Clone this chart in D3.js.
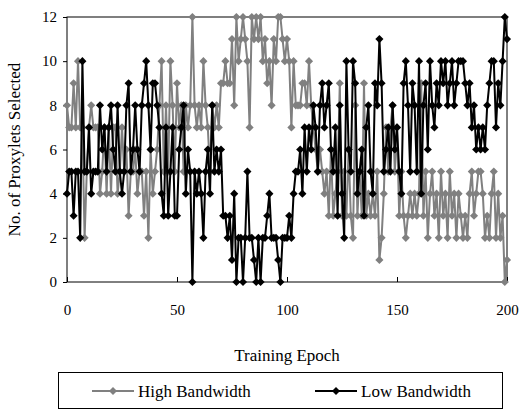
<!DOCTYPE html>
<html>
<head>
<meta charset="utf-8">
<script src="https://cdn.jsdelivr.net/npm/d3@7"></script>
<style>
  body { margin: 0; background: #fff; }
  svg text { font-family: "Liberation Serif", "Times New Roman", serif; fill: #000; }
</style>
</head>
<body>
<div id="chart"></div>
<script>
const grey = "#808080";
const black = "#000000";

const seriesNames = ["High Bandwidth", "Low Bandwidth"];
const xTickValues = [0, 50, 100, 150, 200];
const yTickValues = [0, 2, 4, 6, 8, 10, 12];

const epochs = d3.range(0, 201);

// epochs 0..200
const highBandwidth = [
  8, 7, 7, 9, 7, 10, 7, 7, 2, 5,
  7, 8, 7, 7, 7, 4, 5, 7, 4, 7,
  4, 7, 7, 4, 5, 7, 5, 6, 3, 5,
  5, 6, 4, 5, 5, 3, 5, 2, 6, 4,
  5, 6, 8, 10, 5, 8, 5, 10, 8, 5,
  9, 7, 8, 5, 8, 7, 8, 12, 8, 7,
  8, 7, 10, 8, 7, 5, 8, 7, 8, 7,
  9, 9, 10, 9, 9, 11, 8, 12, 10, 11,
  12, 11, 10, 7, 12, 11, 12, 11, 12, 10,
  11, 9, 10, 8, 11, 10, 12, 12, 11, 10,
  11, 10, 7, 10, 8, 8, 8, 9, 9, 8,
  10, 8, 7, 6, 5, 6, 5, 4, 5, 3,
  6, 3, 4, 5, 9, 3, 5, 3, 6, 3,
  2, 8, 3, 5, 3, 9, 3, 4, 3, 4,
  3, 5, 1, 2, 4, 7, 5, 7, 8, 5,
  7, 3, 5, 3, 2, 3, 4, 3, 4, 3,
  4, 9, 3, 5, 2, 4, 5, 3, 4, 2,
  5, 3, 4, 2, 5, 3, 4, 2, 4, 3,
  2, 3, 2, 4, 5, 3, 4, 5, 5, 4,
  2, 3, 2, 4, 5, 2, 4, 2, 3, 0,
  1
];

const lowBandwidth = [
  4, 5, 5, 3, 5, 5, 2, 10, 5, 5,
  7, 4, 5, 5, 5, 8, 6, 7, 5, 7,
  8, 6, 5, 8, 5, 4, 5, 8, 9, 5,
  6, 8, 6, 5, 8, 9, 10, 8, 6, 9,
  9, 8, 7, 4, 3, 7, 3, 5, 7, 3,
  3, 6, 7, 8, 4, 6, 5, 0, 5, 4,
  5, 4, 2, 5, 6, 4, 8, 5, 6, 5,
  6, 3, 3, 2, 3, 1, 4, 0, 2, 2,
  0, 2, 5, 2, 2, 1, 0, 2, 0, 2,
  2, 3, 4, 2, 2, 2, 1, 0, 2, 2,
  2, 3, 2, 4, 5, 5, 6, 4, 7, 5,
  7, 6, 8, 7, 5, 8, 9, 7, 8, 9,
  6, 5, 7, 3, 8, 4, 2, 10, 6, 5,
  10, 9, 4, 5, 6, 3, 7, 8, 5, 4,
  9, 8, 11, 9, 5, 6, 7, 5, 8, 6,
  7, 5, 4, 9, 10, 8, 5, 9, 8, 5,
  10, 4, 8, 9, 6, 10, 8, 7, 9, 8,
  10, 9, 10, 8, 9, 10, 8, 9, 10, 10,
  10, 9, 8, 9, 7, 8, 6, 7, 6, 7,
  6, 8, 9, 10, 10, 7, 9, 8, 10, 12,
  11
];

const width = 523;
const height = 410;
const plot = { left: 67, right: 507, top: 17, bottom: 282 };

const svg = d3.select("#chart")
  .append("svg")
  .attr("width", width)
  .attr("height", height);

const x = d3.scaleLinear().domain([0, 200]).range([plot.left, plot.right]);
const y = d3.scaleLinear().domain([0, 12]).range([plot.bottom, plot.top]);

// plot frame
svg.append("rect")
  .attr("x", plot.left)
  .attr("y", plot.top)
  .attr("width", plot.right - plot.left)
  .attr("height", plot.bottom - plot.top)
  .attr("fill", "none")
  .attr("stroke", black)
  .attr("stroke-width", 1);

// x axis, ticks pointing in
const xAxis = svg.append("g")
  .attr("transform", `translate(0, ${plot.bottom})`)
  .call(d3.axisBottom(x).tickValues(xTickValues).tickSize(-5).tickPadding(22).tickSizeOuter(0));
xAxis.select(".domain").remove();
xAxis.selectAll("text").style("font-size", "15px");

// y axis, ticks pointing out
const yAxis = svg.append("g")
  .attr("transform", `translate(${plot.left}, 0)`)
  .call(d3.axisLeft(y).tickValues(yTickValues).tickSize(4).tickPadding(6).tickSizeOuter(0));
yAxis.select(".domain").remove();
yAxis.selectAll("text").style("font-size", "15px");

svg.append("text")
  .attr("x", (plot.left + plot.right) / 2)
  .attr("y", 361)
  .attr("text-anchor", "middle")
  .style("font-size", "17px")
  .text("Training Epoch");

svg.append("text")
  .attr("transform", `translate(20, ${(plot.top + plot.bottom) / 2}) rotate(-90)`)
  .attr("text-anchor", "middle")
  .style("font-size", "17px")
  .text("No. of Proxylets Selected");

const diamond = d3.symbol().type(d3.symbolDiamond2).size(42);

function drawSeries(values, color) {
  const pts = epochs.map((e, i) => [e, values[i]]);
  const line = d3.line().x((d) => x(d[0])).y((d) => y(d[1]));

  svg.append("path")
    .datum(pts)
    .attr("d", line)
    .attr("fill", "none")
    .attr("stroke", color)
    .attr("stroke-width", 2);

  svg.append("g")
    .selectAll("path")
    .data(pts)
    .enter()
    .append("path")
    .attr("transform", (d) => `translate(${x(d[0])}, ${y(d[1])})`)
    .attr("d", diamond)
    .attr("fill", color);
}

drawSeries(highBandwidth, grey);
drawSeries(lowBandwidth, black);

// legend
const legend = svg.append("g");
legend.append("rect")
  .attr("x", 58.5)
  .attr("y", 372.5)
  .attr("width", 444)
  .attr("height", 36)
  .attr("fill", "#fff")
  .attr("stroke", black)
  .attr("stroke-width", 1);

const legendItems = [
  { name: seriesNames[0], color: grey, x0: 92 },
  { name: seriesNames[1], color: black, x0: 315 }
];

legendItems.forEach((item) => {
  const cy = 391;
  legend.append("line")
    .attr("x1", item.x0)
    .attr("x2", item.x0 + 42)
    .attr("y1", cy)
    .attr("y2", cy)
    .attr("stroke", item.color)
    .attr("stroke-width", 2);
  legend.append("path")
    .attr("transform", `translate(${item.x0 + 21}, ${cy})`)
    .attr("d", diamond)
    .attr("fill", item.color);
  legend.append("text")
    .attr("x", item.x0 + 46)
    .attr("y", cy)
    .attr("dy", "0.35em")
    .style("font-size", "17px")
    .text(item.name);
});
</script>
</body>
</html>
